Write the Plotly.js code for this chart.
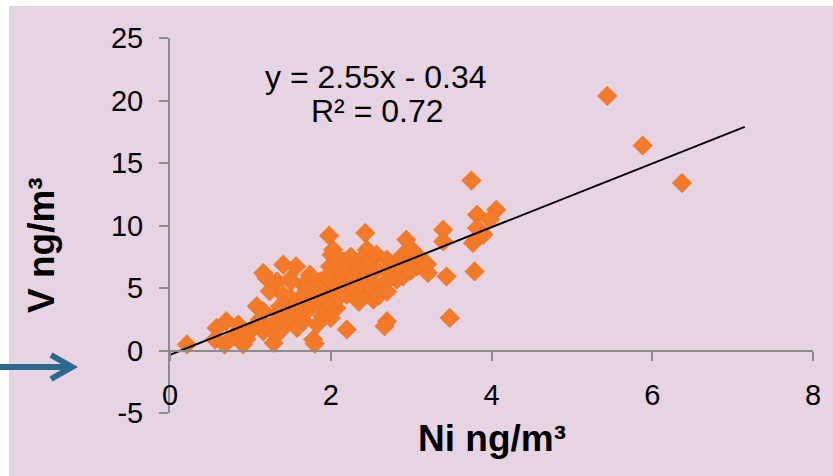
<!DOCTYPE html>
<html>
<head>
<meta charset="utf-8">
<script src="https://cdn.plot.ly/plotly-3.0.1.min.js"></script>
<style>html,body{margin:0;padding:0;background:#fff;}#chart{width:833px;height:476px;}</style>
</head>
<body>
<div id="chart"></div>
<script>
// Ni (ng/m3) values
const niValues = [
  0.21,0.56,0.58,0.68,0.70,0.79,0.85,0.91,0.95,1.08,1.12,1.16,1.16,1.24,1.29,1.33,
  1.20,1.24,1.41,1.37,1.49,1.45,1.58,1.66,1.70,1.78,1.80,1.83,1.58,1.66,1.33,1.49,
  1.66,1.87,1.99,2.07,1.91,1.98,1.16,1.41,1.57,1.74,2.01,1.99,1.51,2.43,2.94,3.40,
  3.40,3.82,4.06,3.98,3.82,3.77,3.90,3.79,3.44,3.21,3.11,3.01,2.90,2.45,2.40,2.57,
  2.70,2.82,3.07,2.16,2.20,2.36,2.57,2.74,2.90,2.20,2.70,2.67,3.48,2.53,2.40,2.20,
  2.82,2.61,2.74,2.24,2.40,2.07,1.99,2.03,3.75,5.44,5.88,6.37,
  2.10,2.05,2.15,2.30,2.30,2.45,2.50,2.55,2.65,2.80,2.95,2.15,1.95,1.85,1.80,1.75,
  1.90,2.00,1.60,1.35,1.30,1.05,0.95,2.35,2.60,2.70,2.45,2.25,2.10,3.00,3.20,1.70,
  1.50,1.45
];
// V (ng/m3) values
const vValues = [
  0.48,0.88,1.80,0.48,2.34,1.14,2.08,0.48,1.28,3.54,2.48,3.14,1.54,1.81,0.61,1.28,
  5.80,4.74,4.47,3.54,2.88,2.08,1.81,2.34,3.14,0.88,0.55,2.08,3.67,4.47,5.54,5.67,
  5.27,5.54,4.47,3.41,3.41,9.19,6.20,6.87,6.73,6.07,7.67,6.73,5.54,9.40,8.87,9.66,
  8.73,10.86,11.26,10.46,9.80,8.60,9.27,6.33,5.93,6.20,7.40,8.07,7.67,8.07,7.40,7.67,
  7.27,7.00,6.73,7.13,6.20,6.73,6.47,6.20,5.93,1.68,2.34,1.94,2.61,4.07,4.47,4.47,
  5.67,5.00,5.80,5.27,5.40,4.07,3.54,8.07,13.6,20.37,16.4,13.4,
  6.0,5.2,4.8,5.8,4.9,6.1,5.5,4.6,5.3,6.5,6.9,6.6,5.9,4.9,4.3,3.8,
  2.8,2.6,2.9,3.0,2.2,1.9,0.9,3.9,4.4,4.7,6.9,7.5,7.3,6.4,6.9,4.9,
  4.2,3.3
];
// Linear fit shown on the chart
const fitSlope = 2.55;
const fitIntercept = -0.34;
const fitX = [0, 7.15];
const fitY = fitX.map(x => fitSlope * x + fitIntercept);

const xTicks = [0, 2, 4, 6, 8];
const yTicks = [-5, 0, 5, 10, 15, 20, 25];

const W = 833, H = 476;
const M = {l: 170, r: 20, t: 38, b: 63};
const pw = W - M.l - M.r, ph = H - M.t - M.b;
const px = x => (x - M.l) / pw;
const py = y => (H - M.b - y) / ph;

const pink = '#e7d4e3';
const axisGray = '#8c8c8c';
const font = 'Liberation Sans, Arial, sans-serif';

const traces = [
  {
    type: 'scatter', mode: 'markers', x: niValues, y: vValues,
    marker: {symbol: 'diamond', size: 15, color: '#f47a28', line: {color: '#ea7020', width: 0.6}},
    hoverinfo: 'skip', showlegend: false
  },
  {
    type: 'scatter', mode: 'lines', x: fitX, y: fitY,
    line: {color: '#000000', width: 2}, hoverinfo: 'skip', showlegend: false
  }
];

const arrowY = 367;
const layout = {
  width: W, height: H,
  margin: M,
  paper_bgcolor: pink,
  plot_bgcolor: 'rgba(0,0,0,0)',
  showlegend: false,
  font: {family: font, color: '#000'},
  xaxis: {
    range: [0, 8], tickvals: xTicks, ticktext: xTicks.map(String),
    anchor: 'free', position: 5 / 30,
    showline: true, linecolor: axisGray, linewidth: 2,
    ticks: 'outside', ticklen: 9, tickwidth: 2, tickcolor: axisGray,
    showgrid: false, zeroline: false,
    tickfont: {size: 29, family: font, color: '#000'},
    ticklabelstandoff: 10
  },
  yaxis: {
    range: [-5, 25], tickvals: yTicks, ticktext: yTicks.map(String),
    showline: true, linecolor: axisGray, linewidth: 2,
    ticks: 'outside', ticklen: 9, tickwidth: 2, tickcolor: axisGray,
    showgrid: false, zeroline: false,
    tickfont: {size: 29, family: font, color: '#000'},
    ticklabelstandoff: 10
  },
  annotations: [
    {xref: 'paper', yref: 'paper', x: px(375), y: py(77), text: 'y = 2.55x - 0.34',
     showarrow: false, font: {size: 32, family: font, color: '#000'}, xanchor: 'center', yanchor: 'middle'},
    {xref: 'paper', yref: 'paper', x: px(377), y: py(111), text: 'R² = 0.72',
     showarrow: false, font: {size: 32, family: font, color: '#000'}, xanchor: 'center', yanchor: 'middle'},
    {xref: 'paper', yref: 'paper', x: px(492), y: py(439), text: '<b>Ni ng/m³</b>',
     showarrow: false, font: {size: 37, family: font, color: '#000'}, xanchor: 'center', yanchor: 'middle'},
    {xref: 'paper', yref: 'paper', x: px(41), y: py(245), text: '<b>V ng/m³</b>', textangle: -90,
     showarrow: false, font: {size: 37, family: font, color: '#000'}, xanchor: 'center', yanchor: 'middle'}
  ],
  shapes: [
    {type: 'rect', xref: 'paper', yref: 'paper', layer: 'below',
     x0: px(0), x1: px(9), y0: py(H), y1: py(0), fillcolor: '#ffffff', line: {width: 0}},
    {type: 'rect', xref: 'paper', yref: 'paper', layer: 'below',
     x0: px(0), x1: px(W), y0: py(6), y1: py(0), fillcolor: '#ffffff', line: {width: 0}},
    {type: 'path', xref: 'paper', yref: 'paper', layer: 'above',
     path: `M ${px(0)},${py(arrowY)} L ${px(70)},${py(arrowY)}`,
     line: {color: '#2b6a8d', width: 6}},
    {type: 'path', xref: 'paper', yref: 'paper', layer: 'above',
     path: `M ${px(51)},${py(arrowY - 12)} L ${px(72)},${py(arrowY)} L ${px(51)},${py(arrowY + 12)}`,
     line: {color: '#2b6a8d', width: 6}}
  ]
};

Plotly.newPlot('chart', traces, layout, {staticPlot: true, displayModeBar: false});
</script>
</body>
</html>
